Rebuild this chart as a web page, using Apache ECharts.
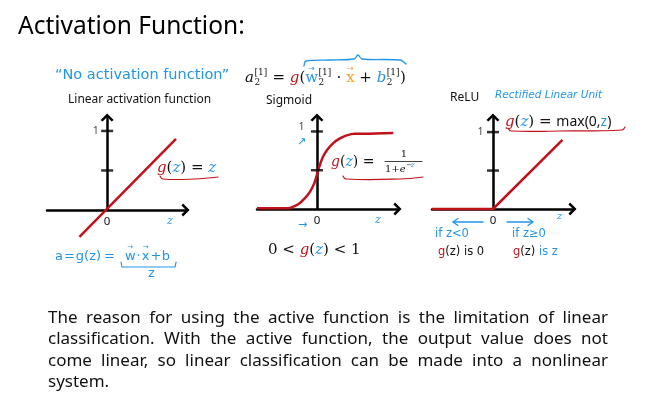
<!DOCTYPE html>
<html><head><meta charset="utf-8">
<script src="https://cdn.jsdelivr.net/npm/echarts@6/dist/echarts.min.js"></script>
<style>html,body{margin:0;padding:0;background:#fff}#c{width:657px;height:412px}</style>
</head><body><div id="c"></div><script>
// ---------- data ----------
const linearZ = [-0.35, 0.87];
const linearG = [-0.34, 0.9];
const sigmoidZ = [-5.45, -2.64, -2.3, -1.7, -1.09, -0.64, -0.25, 0.03, 0.27, 0.57, 0.97, 1.48, 2.09, 2.7, 3.45, 4.36, 6.94];
const sigmoidG = [0.01, 0.01, 0.02, 0.06, 0.14, 0.22, 0.33, 0.46, 0.57, 0.68, 0.77, 0.85, 0.91, 0.95, 0.97, 0.97, 0.98];
const reluZ = [-0.79, 0, 0.9];
const reluG = [0, 0, 0.9];
const yTickValues = [0.5, 1];
const yLabelValues = [1];
const xLabelValues = [0];
const paragraphLines = [
  'The reason for using the active function is the limitation of linear',
  'classification. With the active function, the output value does not',
  'come linear, so linear classification can be made into a nonlinear',
  'system.'
];

// ---------- style ----------
const RED = '#c0121a', BLUE = '#2196e6', ORANGE = '#f0a020', INK = '#111';
const SANS = '"Noto Sans", sans-serif';
const SERIF = '"DejaVu Serif", serif';
const HAND = '"DejaVu Sans", sans-serif';

const cv = document.createElement('canvas').getContext('2d');
function fontStr(p){ return (p.it ? 'italic ' : '') + (p.b ? 'bold ' : '') + p.s + 'px ' + (p.fam || SERIF); }
function tw(t, f){ cv.font = f; return cv.measureText(t).width; }
const G = [];
function txt(x, y, t, f, c, align){
  G.push({type:'text', x:x, y:y, silent:true, z:10,
    style:{text:t, font:f, fill:c, textAlign:align||'left', textVerticalAlign:'middle', align:align||'left', verticalAlign:'middle'}});
}
function line(points, color, width, smooth){
  G.push({type:'polyline', silent:true, z:10, shape:{points:points, smooth:smooth||0}, style:{stroke:color, lineWidth:width||1.3, fill:null, lineCap:'round', lineJoin:'round'}});
}
function run(x, y, parts){
  let cx = x;
  parts.forEach(p => {
    const f = fontStr(p);
    let adv = p.t ? tw(p.t, f) : 0;
    if (p.t) txt(cx, y + (p.dy||0), p.t, f, p.c || INK);
    if (p.arrow) txt(cx + adv/2, y - p.s*(p.ay||0.62), '→', fontStr({s:Math.round(p.s*0.55), fam:'"DejaVu Sans"'}), p.c, 'center');
    if (p.sub || p.sup){
      const sf = fontStr({s: p.ss || Math.round(p.s*0.62), fam: p.sfam || SERIF});
      let m = 0;
      if (p.sub){ txt(cx+adv+0.5, y + p.s*0.32, p.sub, sf, p.subc || INK); m = Math.max(m, tw(p.sub, sf)); }
      if (p.sup){ txt(cx+adv+0.5, y - p.s*0.36, p.sup, sf, p.supc || INK); m = Math.max(m, tw(p.sup, sf)); }
      adv += m + 1;
    }
    cx += adv + (p.gap || 0);
  });
  return cx;
}

// ---------- texts ----------
txt(18, 27, 'Activation Function:', '24.5px ' + SANS, '#000');

// paragraph (justified)
const paraY = [318, 339.5, 361, 382.5];
const PF = '17px ' + SANS, PX0 = 48, PX1 = 608;
paragraphLines.forEach((ln, i) => {
  if (i === paragraphLines.length - 1){ txt(PX0, paraY[i], ln, PF, INK); return; }
  const words = ln.split(' ');
  const total = words.reduce((s, w) => s + tw(w, PF), 0);
  const gap = (PX1 - PX0 - total) / (words.length - 1);
  let x = PX0;
  words.forEach(w => { txt(x, paraY[i], w, PF, INK); x += tw(w, PF) + gap; });
});

// panel titles
txt(55, 75, '\u201CNo activation function\u201D', '14.5px ' + HAND, BLUE);
txt(68, 100, 'Linear activation function', '12px ' + SANS, INK);
txt(266, 101, 'Sigmoid', '12px ' + SANS, INK);
txt(450, 98, 'ReLU', '12px ' + SANS, INK);
txt(495, 95, 'Rectified Linear Unit', 'italic 10.5px ' + HAND, BLUE);

// top formula
run(245, 78, [
  {t:'a', s:15, it:1, sub:'2', sup:'[1]'},
  {t:' = ', s:15},
  {t:'g', s:15, it:1, c:RED},
  {t:'(', s:15},
  {t:'w', s:15, c:BLUE, arrow:1, sub:'2', sup:'[1]'},
  {t:' · ', s:15},
  {t:'x', s:15, c:ORANGE, arrow:1},
  {t:' + ', s:15},
  {t:'b', s:15, it:1, c:BLUE, sub:'2', sup:'[1]'},
  {t:')', s:15}
]);
line([[304,66],[306,61],[330,60],[354,59],[358,55],[362,59],[400,60],[406,64]], BLUE, 1.3, 0.3);

// panel 1 annotations
run(157, 168, [
  {t:'g', s:15, it:1, c:RED}, {t:'(', s:15}, {t:'z', s:15, it:1, c:BLUE}, {t:')', s:15},
  {t:' = ', s:15}, {t:'z', s:15, it:1, c:BLUE}
]);
line([[160,176],[163,179],[195,179],[218,177]], RED, 1.2, 0.4);
txt(167, 221, 'z', 'italic 11px ' + SERIF, BLUE);
const hEnd = run(55, 257, [
  {t:'a', s:13, fam:HAND, c:BLUE, gap:1},
  {t:'=', s:13, fam:HAND, c:BLUE, gap:1},
  {t:'g(z)', s:13, fam:HAND, c:BLUE, gap:3},
  {t:'=', s:13, fam:HAND, c:BLUE, gap:10},
  {t:'w', s:13, fam:HAND, c:BLUE, arrow:1, ay:0.78, gap:1},
  {t:'\u00B7', s:13, fam:HAND, c:BLUE, gap:1},
  {t:'x', s:13, fam:HAND, c:BLUE, arrow:1, ay:0.78, gap:1},
  {t:'+', s:13, fam:HAND, c:BLUE, gap:0.5},
  {t:'b', s:13, fam:HAND, c:BLUE}
]);
line([[121,262],[122,267],[hEnd + 5,267],[hEnd + 6,262]], BLUE, 1.2);
txt(148, 274, 'z', '13px ' + HAND, BLUE);

// panel 2 annotations
txt(297, 142, '\u2197', '11px "DejaVu Sans"', BLUE);
txt(298, 225, '\u2192', '11px "DejaVu Sans"', BLUE);
txt(375, 220, 'z', 'italic 11px ' + SERIF, BLUE);
run(331, 162, [
  {t:'g', s:14, it:1, c:RED}, {t:'(', s:14}, {t:'z', s:14, it:1, c:BLUE}, {t:')', s:14}, {t:' = ', s:14}
]);
txt(404, 154, '1', '10px ' + SERIF, INK, 'center');
line([[385,161.5],[422,161.5]], INK, 0.8);
const ex = run(385, 169, [{t:'1+', s:10}, {t:'e', s:10, it:1}]);
txt(ex + 0.5, 165.5, '\u2212', '7px ' + SERIF, INK);
txt(ex + 5, 165.5, 'z', 'italic 7px ' + SERIF, BLUE);
line([[343,176],[346,179],[400,179],[423,177]], RED, 1.2, 0.4);
run(268, 250, [
  {t:'0 < ', s:15}, {t:'g', s:15, it:1, c:RED}, {t:'(', s:15}, {t:'z', s:15, it:1, c:BLUE}, {t:')', s:15}, {t:' < 1', s:15}
]);

// panel 3 annotations
run(505, 122, [
  {t:'g', s:15, it:1, c:RED}, {t:'(', s:15}, {t:'z', s:15, it:1, c:BLUE}, {t:')', s:15}, {t:' = ', s:15},
  {t:'max(0,', s:14, fam:SANS}, {t:'z', s:14, fam:SANS, c:BLUE}, {t:')', s:14, fam:SANS}
]);
line([[508,128],[511,131],[560,131],[622,130],[625,127]], RED, 1.2, 0.4);
line([[483,222],[453,222]], BLUE, 1.3);
line([[458,218.5],[453,222],[458,225.5]], BLUE, 1.3);
line([[507,222],[533,222]], BLUE, 1.3);
line([[528,218.5],[533,222],[528,225.5]], BLUE, 1.3);
txt(557, 216, 'z', 'italic 10px ' + SERIF, BLUE);
txt(435, 234, 'if z<0', '11.5px ' + HAND, BLUE);
txt(512, 234, 'if z\u22650', '11.5px ' + HAND, BLUE);
run(438, 252, [{t:'g', s:11.5, fam:HAND, c:RED}, {t:'(z) is 0', s:11.5, fam:HAND, c:INK}]);
run(513, 252, [{t:'g', s:11.5, fam:HAND, c:RED}, {t:'(z) ', s:11.5, fam:HAND, c:INK}, {t:'is z', s:11.5, fam:HAND, c:BLUE}]);

// ---------- chart ----------
const ARROW = 'path://M0,10 L10,0 L20,10 L17,12.5 L10,5.5 L3,12.5 Z';
const panels = [
  {left:47, width:138.5, top:117.5, height:92.5, xmin:-0.76, xmax:0.99, ymax:1.17, lblDist:8, lblDy:0},
  {left:257, width:140.5, top:117.5, height:91.5, xmin:-5.45, xmax:7.32, ymax:1.18, lblDist:12, lblDy:-4},
  {left:432, width:140.5, top:117.5, height:91.5, xmin:-0.79, xmax:1.03, ymax:1.19, lblDist:9, lblDy:0}
];
const axisLine = {onZero:true, symbol:['none', ARROW], symbolSize:[13, 9], lineStyle:{color:'#000', width:2.5}};
const option = {
  animation:false,
  backgroundColor:'#fff',
  grid: panels.map(p => ({left:p.left, top:p.top, width:p.width, height:p.height, outerBoundsMode:'none', containLabel:false})),
  xAxis: panels.map((p, i) => ({type:'value', gridIndex:i, min:p.xmin, max:p.xmax, axisLine:axisLine,
    splitLine:{show:false}, axisTick:{show:false},
    axisLabel:{customValues:xLabelValues, formatter:v => String(v), fontSize:11.5, color:INK, margin:6, fontFamily:SANS}})),
  yAxis: panels.map((p, i) => ({type:'value', gridIndex:i, min:0, max:p.ymax, axisLine:axisLine,
    splitLine:{show:false}, axisTick:{show:false}, axisLabel:{show:false}})),
  series: [
    {type:'line', xAxisIndex:0, yAxisIndex:0, data:linearZ.map((z, i) => [z, linearG[i]]), symbol:'none', clip:false,
      lineStyle:{color:RED, width:2.5}, z:5},
    {type:'line', xAxisIndex:1, yAxisIndex:1, data:sigmoidZ.map((z, i) => [z, sigmoidG[i]]), symbol:'none', clip:false,
      smooth:0.25, lineStyle:{color:RED, width:2.5}, z:5},
    {type:'line', xAxisIndex:2, yAxisIndex:2, data:reluZ.map((z, i) => [z, reluG[i]]), symbol:'none', clip:false,
      lineStyle:{color:RED, width:2.5}, z:5}
  ].concat(panels.map((p, i) => ({type:'scatter', xAxisIndex:i, yAxisIndex:i, data:yTickValues.map(v => [0, v]),
      symbol:'rect', symbolSize:[12, 2.5], itemStyle:{color:'#000'}, silent:true, z:6})))
   .concat(panels.map((p, i) => ({type:'scatter', xAxisIndex:i, yAxisIndex:i, data:yLabelValues.map(v => [0, v]),
      symbolSize:1, itemStyle:{color:'rgba(0,0,0,0)'}, silent:true, z:7,
      label:{show:true, position:'left', distance:p.lblDist, offset:[0, p.lblDy], formatter:d => String(d.value[1]),
        fontSize:10.5, color:INK, fontFamily:SANS}}))),
  graphic: {elements: G}
};
const chart = echarts.init(document.getElementById('c'), null, {renderer:'canvas'});
chart.setOption(option);
</script></body></html>
